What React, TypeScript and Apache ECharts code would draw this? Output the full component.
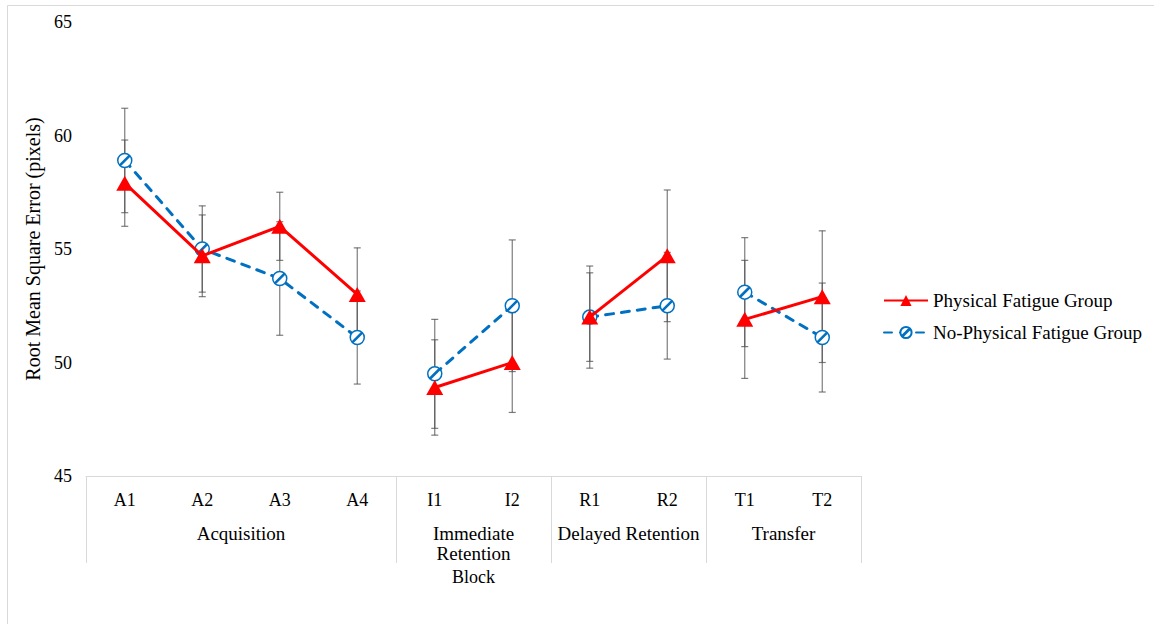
import React, { useEffect, useRef } from 'react';
import * as echarts from 'echarts';

const categories = ['A1', 'A2', 'A3', 'A4', 'I1', 'I2', 'R1', 'R2', 'T1', 'T2'];
const groupNames = ['Acquisition', 'Immediate\nRetention', 'Delayed Retention', 'Transfer'];
const groupSizes = [4, 2, 2, 2];

const yMin = 45;
const yMax = 65;
const yInterval = 5;

const physicalFatigue = [57.9, 54.7, 56.0, 53.0, 48.9, 50.0, 52.0, 54.7, 51.9, 52.9];
const physicalFatigueErr = [1.9, 1.8, 1.5, 2.05, 2.1, 2.2, 2.25, 2.9, 2.6, 2.9];
const noPhysicalFatigue = [58.9, 55.0, 53.7, 51.1, 49.5, 52.5, 52.0, 52.5, 53.1, 51.1];
const noPhysicalFatigueErr = [2.3, 1.9, 2.5, 2.05, 2.4, 2.9, 1.95, 2.35, 2.4, 2.4];

const FONT = 'Liberation Serif, serif';
const RED = '#FF0000';
const BLUE = '#0070C0';
const GRAY = '#d9d9d9';

const slashCircle =
  'path://M0,7A7,7 0 1,1 14,7A7,7 0 1,1 0,7Z M2.5,10.7L10.7,2.5L11.5,3.3L3.3,11.5Z';

export default function App() {
  const ref = useRef<HTMLDivElement>(null);

  useEffect(() => {
    if (!ref.current) return;
    const chart = echarts.init(ref.current, undefined, { renderer: 'svg' });

    const bounds: number[] = [0];
    groupSizes.forEach((s) => bounds.push(bounds[bounds.length - 1] + s));
    const centers = groupSizes.map((s, i) => bounds[i] + s / 2);

    const errData = (vals: number[], errs: number[]) =>
      categories.map((_, i) => [i, vals[i], errs[i]]);

    const renderErr = (params: any, api: any) => {
      const i = api.value(0);
      const m = api.value(1);
      const e = api.value(2);
      const top = api.coord([i, m + e]);
      const bot = api.coord([i, m - e]);
      const x = top[0];
      const hw = 3.5;
      const style = { stroke: '#505050', lineWidth: 1.2, opacity: 0.75 };
      return {
        type: 'group',
        children: [
          { type: 'line', shape: { x1: x, y1: top[1], x2: x, y2: bot[1] }, style },
          { type: 'line', shape: { x1: x - hw, y1: top[1], x2: x + hw, y2: top[1] }, style },
          { type: 'line', shape: { x1: x - hw, y1: bot[1], x2: x + hw, y2: bot[1] }, style },
        ],
      };
    };

    // split a series into one line per block so lines do not join across blocks
    const segmented = (vals: number[]) =>
      groupSizes.map((_, g) =>
        vals.map((v, i) => (i >= bounds[g] && i < bounds[g + 1] ? v : '-'))
      );

    const npfSeries = segmented(noPhysicalFatigue).map((d) => ({
      type: 'line',
      name: 'No-Physical Fatigue Group',
      data: d,
      symbol: slashCircle,
      symbolSize: 14,
      connectNulls: false,
      itemStyle: { color: '#fff', borderColor: BLUE, borderWidth: 1.5 },
      lineStyle: { color: BLUE, width: 3, type: [8, 8], cap: 'round' },
      z: 3,
    }));
    const pfSeries = segmented(physicalFatigue).map((d) => ({
      type: 'line',
      name: 'Physical Fatigue Group',
      data: d,
      symbol: 'triangle',
      symbolSize: [17, 15],
      connectNulls: false,
      itemStyle: { color: RED },
      lineStyle: { color: RED, width: 3 },
      z: 4,
    }));

    chart.setOption({
      animation: false,
      backgroundColor: '#fff',
      graphic: [
        {
          type: 'rect',
          shape: { x: 7.5, y: 5.5, width: 1300, height: 800 },
          style: { fill: 'none', stroke: GRAY, lineWidth: 1 },
          silent: true,
        },
      ],
      grid: { left: 86, right: 293, top: 22, bottom: 148 },
      legend: {
        orient: 'vertical',
        left: 878,
        top: 286,
        itemWidth: 44,
        itemHeight: 14,
        itemGap: 13,
        data: ['Physical Fatigue Group', 'No-Physical Fatigue Group'],
        textStyle: { fontFamily: FONT, fontSize: 19, color: '#000' },
      },
      xAxis: [
        {
          type: 'category',
          data: categories,
          position: 'bottom',
          axisLine: { show: true, lineStyle: { color: GRAY, width: 1 } },
          axisTick: { show: false },
          axisLabel: { fontFamily: FONT, fontSize: 18, color: '#000', margin: 15 },
          splitLine: { show: false },
        },
        {
          type: 'value',
          min: 0,
          max: bounds[bounds.length - 1],
          position: 'bottom',
          offset: 0,
          axisLine: { show: false },
          axisTick: {
            show: true,
            customValues: bounds,
            length: 87,
            lineStyle: { color: GRAY, width: 1 },
          },
          axisLabel: {
            customValues: centers,
            formatter: (v: number) => {
              const idx = centers.indexOf(v);
              return idx >= 0 ? groupNames[idx] : '';
            },
            fontFamily: FONT,
            fontSize: 19,
            lineHeight: 20,
            color: '#000',
            margin: 47,
          },
          splitLine: { show: false },
          name: 'Block',
          nameLocation: 'middle',
          nameGap: 92,
          nameTextStyle: { fontFamily: FONT, fontSize: 18, color: '#000' },
        },
      ],
      yAxis: {
        type: 'value',
        min: yMin,
        max: yMax,
        interval: yInterval,
        axisLine: { show: false },
        axisTick: { show: false },
        splitLine: { show: false },
        axisLabel: { fontFamily: FONT, fontSize: 18, color: '#000', margin: 14 },
        name: 'Root Mean Square Error (pixels)',
        nameLocation: 'middle',
        nameGap: 28,
        nameTextStyle: { fontFamily: FONT, fontSize: 20, color: '#000' },
      },
      series: [
        {
          type: 'custom',
          name: 'pfErr',
          renderItem: renderErr,
          data: errData(physicalFatigue, physicalFatigueErr),
          encode: { x: 0, y: 1 },
          z: 1,
          silent: true,
        },
        {
          type: 'custom',
          name: 'npfErr',
          renderItem: renderErr,
          data: errData(noPhysicalFatigue, noPhysicalFatigueErr),
          encode: { x: 0, y: 1 },
          z: 1,
          silent: true,
        },
        ...npfSeries,
        ...pfSeries,
      ],
    });

    return () => chart.dispose();
  }, []);

  return (
    <div
      ref={ref}
      style={{ position: 'fixed', left: 0, top: 0, width: 1154, height: 624 }}
    />
  );
}
